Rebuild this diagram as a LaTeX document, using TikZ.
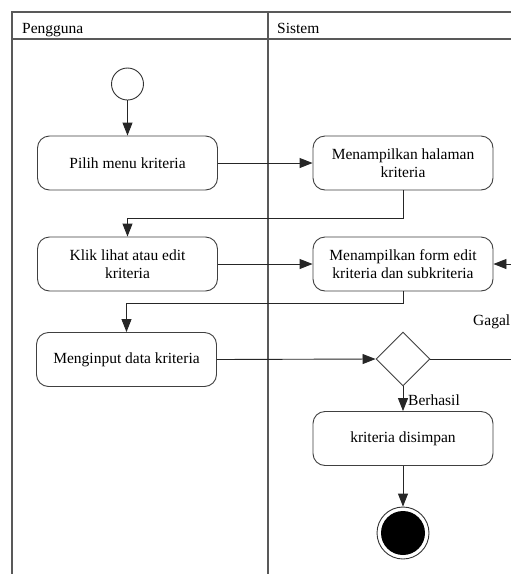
\documentclass[tikz,border=0pt]{standalone}
\usepackage{fontspec}
\setmainfont{Liberation Serif}
\usetikzlibrary{shapes.geometric,arrows.meta}

\begin{document}
\begin{tikzpicture}[x=1pt,y=1pt,
  lane/.style={draw=black!65, line width=1.4pt},
  act/.style={draw=black!75, line width=0.9pt, rounded corners=12pt,
    minimum width=180pt, minimum height=54pt, align=center, inner sep=0pt,
    font=\fontsize{15.5}{18}\selectfont},
  flow/.style={draw=black!85, line width=0.9pt, -{Triangle[length=13pt,width=10pt]}},
  lbl/.style={font=\fontsize{15.5}{18}\selectfont, inner sep=0pt}
]
\clip (0,0) rectangle (511,-574);
\fill[white] (0,0) rectangle (511,-574);

% swimlanes
\draw[lane] (12,-580) -- (12,-12) -- (530,-12);
\draw[lane] (12,-39) -- (530,-39);
\draw[lane] (268,-12) -- (268,-580);
\node[lbl, anchor=base west] (hUser) at (22,-33) {Pengguna};
\node[lbl, anchor=base west] (hSys) at (277,-33) {Sistem};

% activities
\node[circle, draw=black!80, line width=0.9pt, minimum size=32pt, inner sep=0pt] (start) at (127.5,-84) {};
\node[act] (pilih) at (127.5,-163) {Pilih menu kriteria};
\node[act] (halaman) at (403,-163) {Menampilkan halaman\\kriteria};
\node[act] (klik) at (127.5,-264) {Klik lihat atau edit\\kriteria};
\node[act] (form) at (403,-264) {Menampilkan form edit\\kriteria dan subkriteria};
\node[act] (input) at (126.5,-359.5) {Menginput data kriteria};
\node[diamond, draw=black!75, line width=0.9pt, minimum width=54pt, minimum height=54pt, inner sep=0pt] (cek) at (403,-359) {};
\node[act] (simpan) at (403,-438.5) {kriteria disimpan};
\node[circle, draw=black!80, line width=0.9pt, minimum size=52pt, inner sep=0pt,
  path picture={\fill[black] (path picture bounding box.center) circle (22pt);}] (end) at (403,-533) {};

% flows
\draw[flow] (start) -- (pilih);
\draw[flow] (pilih) -- (halaman);
\draw[flow] (halaman.south) -- ++(0,-28) -| (klik.north);
\draw[flow] (klik) -- (form);
\draw[flow] (form.south) -- ++(0,-12) -| (input.north);
\draw[flow] (input.east) -- (cek.west);
\draw[flow] (cek.east) -- (530,-359) |- (form.east);
\draw[flow] (cek) -- (simpan);
\draw[flow] (simpan) -- (end);

% guards
\node[lbl, anchor=base west] (gagal) at (473,-325) {Gagal};
\node[lbl, anchor=base west] (berhasil) at (408,-405) {Berhasil};
\end{tikzpicture}
\end{document}
